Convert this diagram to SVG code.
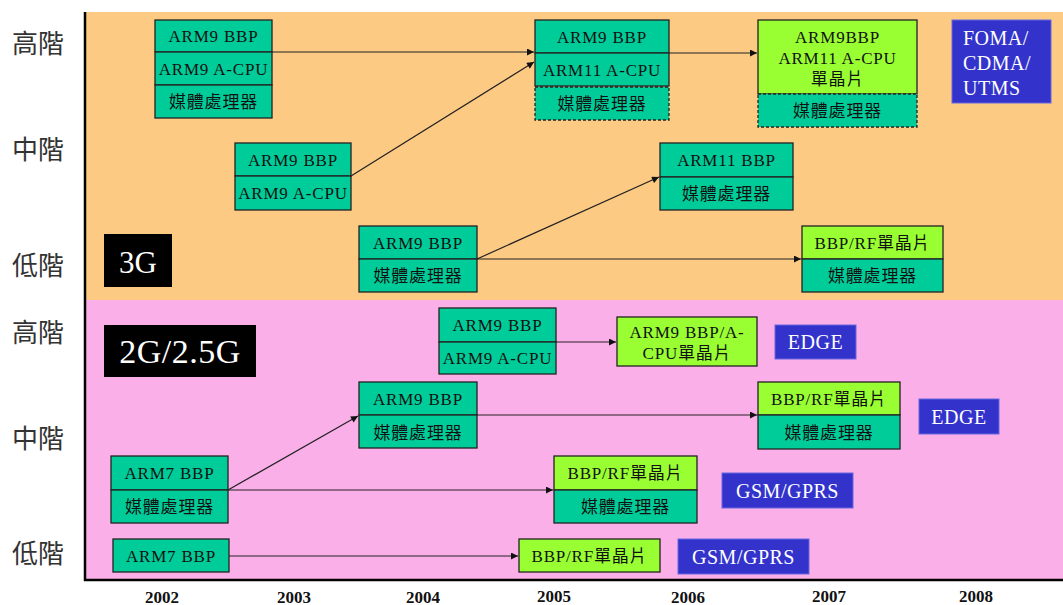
<svg xmlns="http://www.w3.org/2000/svg" width="1063" height="605" viewBox="0 0 1063 605">
<defs>
<marker id="ah" viewBox="0 0 10 10" refX="10" refY="5" markerWidth="9" markerHeight="7" markerUnits="userSpaceOnUse" orient="auto">
<path d="M0,0 L10,5 L0,10 z" fill="#111"/>
</marker>
<style>
.g{fill:#00CC99;stroke:#222;stroke-width:1.3}
.l{fill:#99FF33;stroke:#222;stroke-width:1.3}
.d{fill:#00CC99;stroke:#222;stroke-width:1.3;stroke-dasharray:3,2}
.b{fill:#3333CC;stroke:#6666dd;stroke-width:1}
.k{fill:#000}
.t{font-family:"Liberation Serif","Noto Sans CJK TC",serif;font-size:17px;letter-spacing:0.8px;fill:#111;text-anchor:middle}
.w{font-family:"Liberation Serif",serif;font-size:20px;letter-spacing:0.5px;fill:#fff}
.big{font-family:"Liberation Serif",serif;fill:#fff}
.r{font-family:"Noto Sans CJK TC",sans-serif;font-size:26px;fill:#333}
.y{font-family:"Liberation Serif",serif;font-size:17px;font-weight:bold;fill:#111;text-anchor:middle}
.c{stroke:#222;stroke-width:1.2;fill:none;marker-end:url(#ah)}
</style>
</defs>
<rect x="0" y="0" width="1063" height="605" fill="#fff"/>
<g id="background">
<rect x="86" y="12" width="977" height="288" fill="#FDCA84"/>
<rect x="86" y="300" width="977" height="280" fill="#FBAFE8"/>
<line x1="85" y1="12" x2="85" y2="581" stroke="#000" stroke-width="2.5"/>
<line x1="84" y1="580" x2="1063" y2="580" stroke="#000" stroke-width="2.5"/>
</g>
<g id="row-labels">
<text class="r" x="12" y="53">高階</text>
<text class="r" x="12" y="159">中階</text>
<text class="r" x="12" y="275">低階</text>
<text class="r" x="12" y="342">高階</text>
<text class="r" x="12" y="448">中階</text>
<text class="r" x="12" y="563">低階</text>
</g>
<g id="years">
<text class="y" x="162" y="603">2002</text>
<text class="y" x="294" y="603">2003</text>
<text class="y" x="423" y="603">2004</text>
<text class="y" x="554" y="602">2005</text>
<text class="y" x="688" y="603">2006</text>
<text class="y" x="829" y="602">2007</text>
<text class="y" x="976" y="602">2008</text>
</g>
<g id="connectors">
<line class="c" x1="272" y1="52" x2="534" y2="52"/>
<line class="c" x1="351" y1="176" x2="534" y2="62"/>
<line class="c" x1="669" y1="53" x2="757" y2="53"/>
<line class="c" x1="477" y1="259" x2="659" y2="177"/>
<line class="c" x1="477" y1="259" x2="801" y2="259"/>
<line class="c" x1="556" y1="342" x2="616" y2="342"/>
<line class="c" x1="228" y1="490" x2="358" y2="416"/>
<line class="c" x1="477" y1="415" x2="757" y2="415"/>
<line class="c" x1="228" y1="490" x2="553" y2="490"/>
<line class="c" x1="229" y1="556" x2="518" y2="556"/>
</g>
<g id="n1">
<rect class="g" x="155" y="20" width="117" height="32"/>
<rect class="g" x="155" y="52" width="117" height="33"/>
<rect class="g" x="155" y="85" width="117" height="33"/>
<text class="t" x="213.5" y="42">ARM9 BBP</text>
<text class="t" x="213.5" y="75">ARM9 A-CPU</text>
<text class="t" x="213.5" y="108">媒體處理器</text>
</g>
<g id="n2">
<rect class="g" x="235" y="143" width="116" height="33"/>
<rect class="g" x="235" y="176" width="116" height="34"/>
<text class="t" x="293" y="166">ARM9 BBP</text>
<text class="t" x="293" y="199">ARM9 A-CPU</text>
</g>
<g id="n3G">
<rect class="k" x="104" y="234" width="68" height="53"/>
<text class="big" x="138" y="273" font-size="31" text-anchor="middle">3G</text>
</g>
<g id="n4">
<rect class="g" x="359" y="226" width="118" height="33"/>
<rect class="g" x="359" y="259" width="118" height="33"/>
<text class="t" x="418" y="249">ARM9 BBP</text>
<text class="t" x="418" y="282">媒體處理器</text>
</g>
<g id="n5">
<rect class="g" x="535" y="20" width="134" height="33"/>
<rect class="g" x="535" y="53" width="134" height="33"/>
<rect class="d" x="535" y="87" width="134" height="33"/>
<text class="t" x="602" y="43">ARM9 BBP</text>
<text class="t" x="602" y="76">ARM11 A-CPU</text>
<text class="t" x="602" y="110">媒體處理器</text>
</g>
<g id="n6">
<rect class="g" x="660" y="143" width="133" height="34"/>
<rect class="g" x="660" y="177" width="133" height="33"/>
<text class="t" x="726.5" y="166">ARM11 BBP</text>
<text class="t" x="726.5" y="200">媒體處理器</text>
</g>
<g id="n7">
<rect class="l" x="758" y="20" width="159" height="74"/>
<rect class="d" x="758" y="94" width="159" height="33"/>
<text class="t" x="837.5" y="43">ARM9BBP</text>
<text class="t" x="837.5" y="64">ARM11 A-CPU</text>
<text class="t" x="837.5" y="85">單晶片</text>
<text class="t" x="837.5" y="117">媒體處理器</text>
</g>
<g id="n8">
<rect class="b" x="952" y="20" width="99" height="83"/>
<text class="w" x="963" y="45">FOMA/</text>
<text class="w" x="963" y="70">CDMA/</text>
<text class="w" x="963" y="95">UTMS</text>
</g>
<g id="n9">
<rect class="l" x="802" y="226" width="141" height="33"/>
<rect class="g" x="802" y="259" width="141" height="33"/>
<text class="t" x="872.5" y="249">BBP/RF單晶片</text>
<text class="t" x="872.5" y="282">媒體處理器</text>
</g>
<g id="n10">
<rect class="k" x="104" y="325" width="152" height="52"/>
<text class="big" x="180" y="363" font-size="34" text-anchor="middle" letter-spacing="0.5">2G/2.5G</text>
</g>
<g id="n11">
<rect class="g" x="439" y="308" width="117" height="34"/>
<rect class="g" x="439" y="342" width="117" height="32"/>
<text class="t" x="497.5" y="331">ARM9 BBP</text>
<text class="t" x="497.5" y="364">ARM9 A-CPU</text>
</g>
<g id="n12">
<rect class="l" x="617" y="317" width="140" height="49"/>
<text class="t" x="687" y="338">ARM9 BBP/A-</text>
<text class="t" x="687" y="359">CPU單晶片</text>
</g>
<g id="n13">
<rect class="b" x="775" y="325" width="81" height="34"/>
<text class="w" x="815.5" y="349" text-anchor="middle">EDGE</text>
</g>
<g id="n14">
<rect class="g" x="359" y="382" width="118" height="33"/>
<rect class="g" x="359" y="415" width="118" height="33"/>
<text class="t" x="418" y="405">ARM9 BBP</text>
<text class="t" x="418" y="439">媒體處理器</text>
</g>
<g id="n15">
<rect class="l" x="758" y="382" width="142" height="33"/>
<rect class="g" x="758" y="415" width="142" height="34"/>
<text class="t" x="829" y="405">BBP/RF單晶片</text>
<text class="t" x="829" y="439">媒體處理器</text>
</g>
<g id="n16">
<rect class="b" x="919" y="399" width="80" height="35"/>
<text class="w" x="959" y="424" text-anchor="middle">EDGE</text>
</g>
<g id="n17">
<rect class="g" x="111" y="456" width="117" height="34"/>
<rect class="g" x="111" y="490" width="117" height="33"/>
<text class="t" x="169.5" y="479">ARM7 BBP</text>
<text class="t" x="169.5" y="513">媒體處理器</text>
</g>
<g id="n18">
<rect class="l" x="554" y="456" width="143" height="34"/>
<rect class="g" x="554" y="490" width="143" height="33"/>
<text class="t" x="625.5" y="479">BBP/RF單晶片</text>
<text class="t" x="625.5" y="513">媒體處理器</text>
</g>
<g id="n19">
<rect class="b" x="722" y="473" width="131" height="35"/>
<text class="w" x="787.5" y="498" text-anchor="middle">GSM/GPRS</text>
</g>
<g id="n20">
<rect class="g" x="113" y="539" width="116" height="33"/>
<text class="t" x="171" y="562">ARM7 BBP</text>
</g>
<g id="n21">
<rect class="l" x="519" y="539" width="141" height="33"/>
<text class="t" x="589.5" y="562">BBP/RF單晶片</text>
</g>
<g id="n22">
<rect class="b" x="678" y="539" width="131" height="35"/>
<text class="w" x="743.5" y="564" text-anchor="middle">GSM/GPRS</text>
</g>
</svg>
